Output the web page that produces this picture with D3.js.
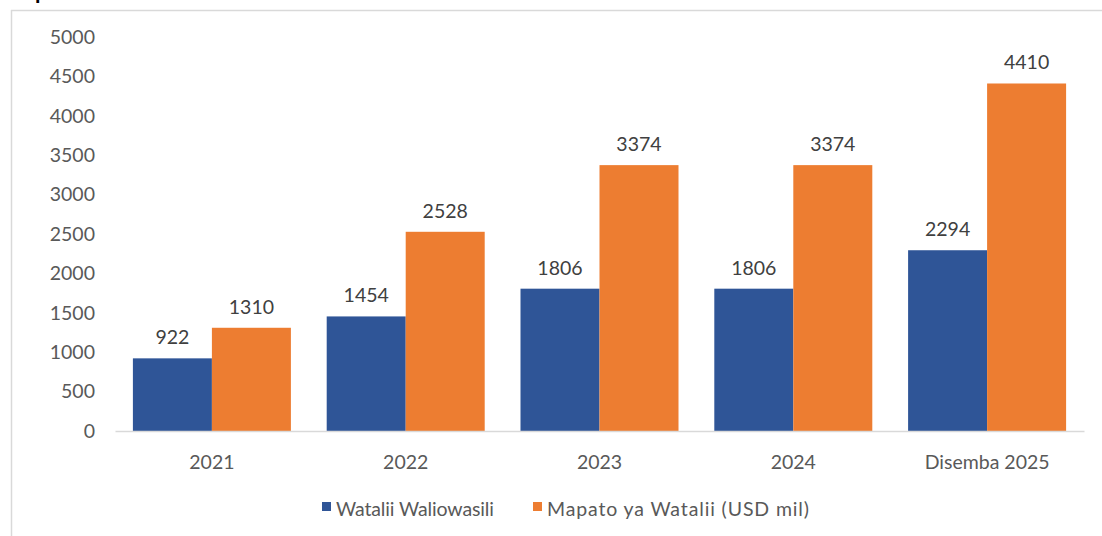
<!DOCTYPE html>
<html>
<head>
<meta charset="utf-8">
<script src="https://cdn.jsdelivr.net/npm/d3@7"></script>
<style>
  html, body { margin: 0; padding: 0; background: #fff; }
  svg { display: block; }
  text { font-family: Lato, "Open Sans", sans-serif; }
</style>
</head>
<body>
<div id="chart"></div>
<script>
const categories = ["2021", "2022", "2023", "2024", "Disemba 2025"];
const seriesNames = ["Watalii Waliowasili", "Mapato ya Watalii (USD mil)"];
const watalii = [922, 1454, 1806, 1806, 2294];
const mapato = [1310, 2528, 3374, 3374, 4410];
const yTicks = [0, 500, 1000, 1500, 2000, 2500, 3000, 3500, 4000, 4500, 5000];
const colors = ["#2F5597", "#ED7D31"];

const W = 1102, H = 536;
const FS = 19.5;
const svg = d3.select("#chart").append("svg").attr("width", W).attr("height", H);

// frame
svg.append("line").attr("x1", 11).attr("x2", W).attr("y1", 10.5).attr("y2", 10.5)
  .attr("stroke", "#d9d9d9").attr("stroke-width", 1.5);
svg.append("line").attr("x1", 11.5).attr("x2", 11.5).attr("y1", 10).attr("y2", H)
  .attr("stroke", "#d9d9d9").attr("stroke-width", 1.5);
// cut-off title fragment (the reference shows only its descender)
svg.append("text").attr("x", 35).attr("y", -1.5).attr("font-size", 22).attr("font-weight", 700)
  .attr("fill", "#000").text("p");

const x0 = d3.scaleBand().domain(categories).range([115, 1084]).padding(0);
const pairW = 158;
const x1 = d3.scaleBand().domain(seriesNames)
  .range([(x0.bandwidth() - pairW) / 2, (x0.bandwidth() + pairW) / 2]);
const y = d3.scaleLinear().domain([0, 5000]).range([431, 37]);

// y axis labels
const yAxis = d3.axisLeft(y).tickValues(yTicks).tickSize(0).tickPadding(0).tickFormat(d3.format("d"));
const gy = svg.append("g").attr("transform", "translate(95,0)").call(yAxis);
gy.select(".domain").remove();
gy.selectAll("text").attr("font-size", FS).attr("fill", "#595959")
  .attr("font-family", "Lato, 'Open Sans', sans-serif");

const data = categories.map((c, i) => ({ cat: c, vals: [watalii[i], mapato[i]] }));

const groups = svg.append("g").selectAll("g").data(data).join("g")
  .attr("transform", d => `translate(${x0(d.cat)},0)`);

groups.selectAll("rect").data(d => d.vals.map((v, j) => ({ v, s: seriesNames[j], j })))
  .join("rect")
  .attr("x", d => x1(d.s))
  .attr("width", x1.bandwidth())
  .attr("y", d => y(d.v))
  .attr("height", d => y(0) - y(d.v))
  .attr("fill", d => colors[d.j]);

groups.selectAll("text.lbl").data(d => d.vals.map((v, j) => ({ v, s: seriesNames[j], j })))
  .join("text").attr("class", "lbl")
  .attr("x", d => x1(d.s) + x1.bandwidth() / 2)
  .attr("y", d => y(d.v) - 14)
  .attr("text-anchor", "middle")
  .attr("font-size", FS)
  .attr("fill", "#404040")
  .text(d => d.v);

// x axis
const xAxis = d3.axisBottom(x0).tickSize(0).tickPadding(0);
const gx = svg.append("g").attr("transform", "translate(0,431)").call(xAxis);
gx.select(".domain").attr("stroke", "#d9d9d9").attr("stroke-width", 1.5);
gx.selectAll("text").attr("font-size", FS).attr("fill", "#595959")
  .attr("font-family", "Lato, 'Open Sans', sans-serif")
  .attr("dy", null).attr("y", 38);

// legend
const legendX = [322, 533];
const legendW = [158, 262];
const legend = svg.append("g").selectAll("g").data(seriesNames).join("g")
  .attr("transform", (d, i) => `translate(${legendX[i]},0)`);
legend.append("rect").attr("x", 0).attr("y", 502).attr("width", 9).attr("height", 9)
  .attr("fill", (d, i) => colors[i]);
legend.append("text").attr("x", 14).attr("y", 516).attr("font-size", FS)
  .attr("fill", "#595959")
  .attr("textLength", (d, i) => legendW[i]).attr("lengthAdjust", "spacing")
  .text(d => d);
</script>
</body>
</html>
